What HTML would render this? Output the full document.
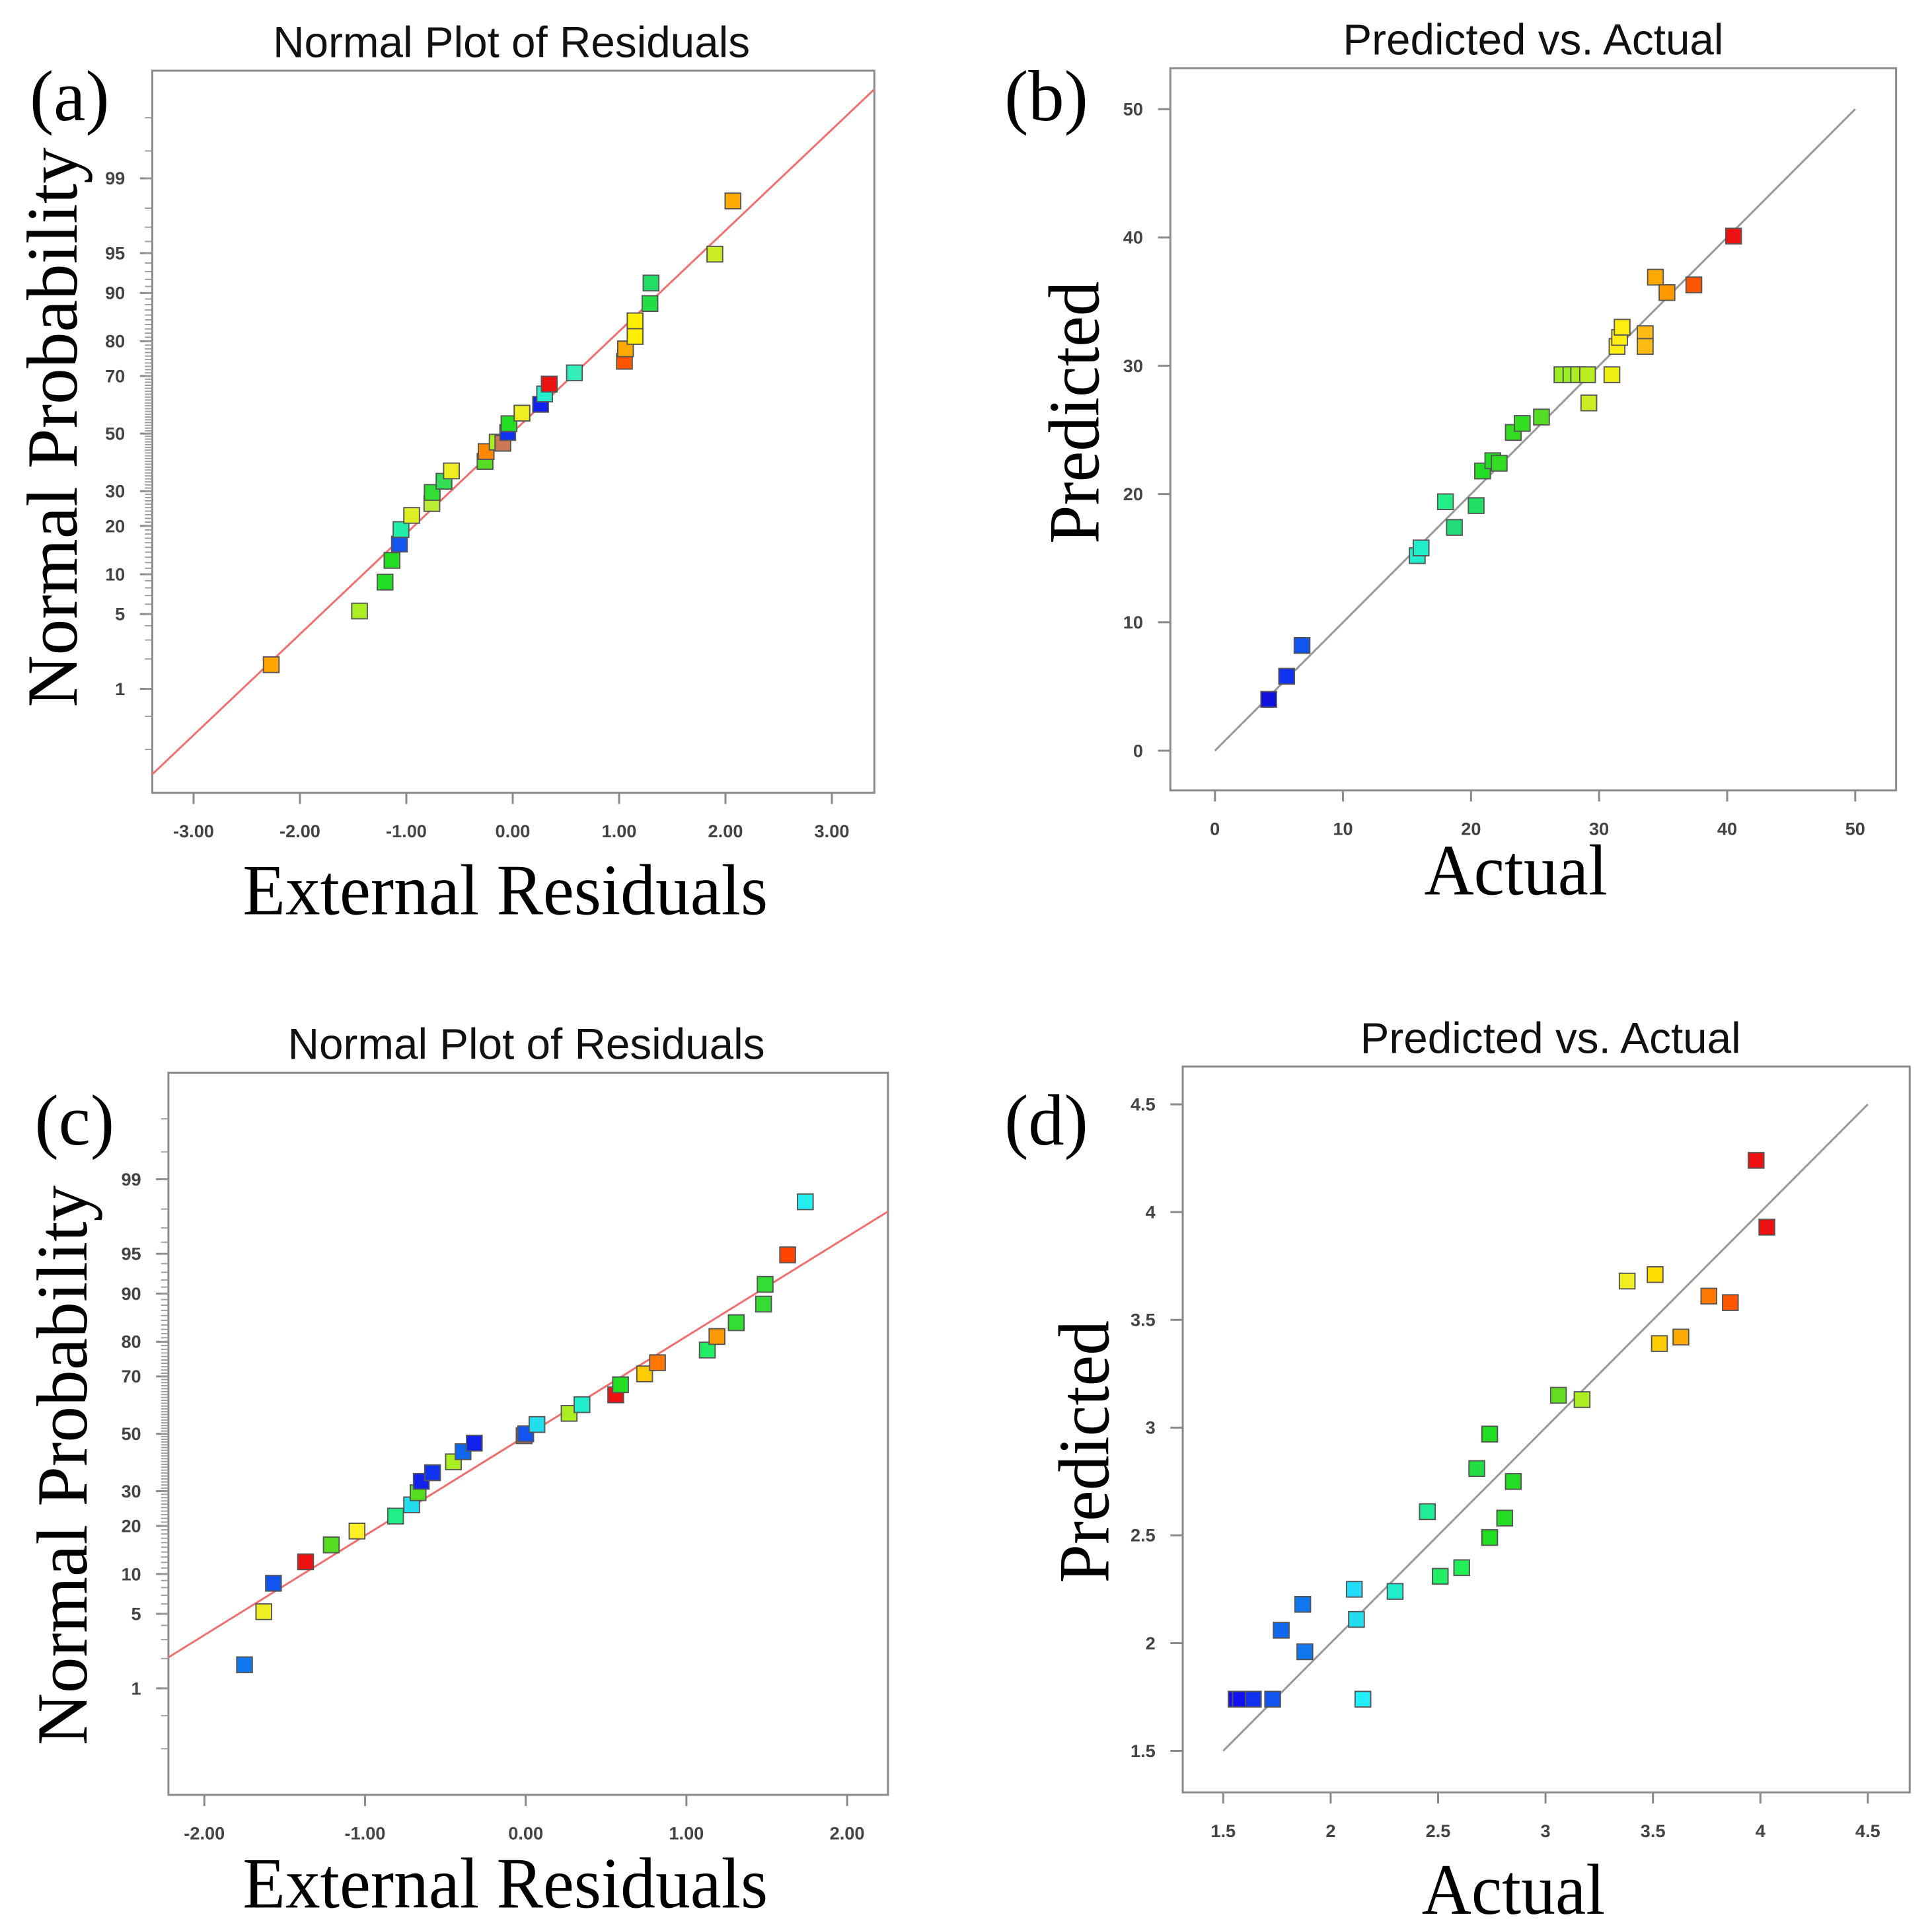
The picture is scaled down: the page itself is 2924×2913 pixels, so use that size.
<!DOCTYPE html>
<html><head><meta charset="utf-8">
<style>
html,body{margin:0;padding:0;background:#fff;}
svg{display:block;}
.tk{font-family:"Liberation Sans",sans-serif;font-size:14.5px;fill:#444;font-weight:bold;}
.ttl{font-family:"Liberation Sans",sans-serif;font-size:35px;fill:#111;}
.big{font-family:"Liberation Serif",serif;font-size:58px;fill:#000;}
</style></head>
<body>
<svg id="fig" width="2924" height="2913" viewBox="0 0 1560 1554" xmlns="http://www.w3.org/2000/svg">
<rect x="0" y="0" width="1560" height="1554" fill="#fff"/>
</svg>
<script>
// ---- Panel (a) data: external residuals vs normal % probability ----
const aRes=[-2.27,-1.44,-1.20,-1.135,-1.065,-1.05,-0.95,-0.76,-0.757,-0.646,-0.576,-0.26,-0.25,-0.146,-0.093,-0.047,-0.035,0.087,0.262,0.30,0.343,0.58,1.05,1.06,1.15,1.15,1.29,1.30,1.90,2.07];
const aProb=[1.76,5.3,8.8,12.4,15.7,19.1,22.8,26.2,29.6,33.2,36.7,40.0,43.5,46.9,46.5,50.4,53.6,57.4,60.5,64.1,67.4,71.0,74.5,78.0,81.2,84.8,88.2,91.5,94.9,98.3];
const aCol=['#ffa500','#aaee22','#22dd22','#22dd22','#1155ee','#22eeaa','#ddee22','#bbee33','#33dd33','#33dd55','#eeee22','#55dd22','#ff8800','#aaee22','#cc7755','#1133ee','#22dd22','#eeee22','#1122ee','#22eecc','#ee1111','#33eebb','#ff5500','#ffaa00','#ffee00','#ffee00','#22dd44','#22dd66','#ccee22','#ffaa00'];
// ---- Panel (b) data ----
const bAct=[4.2,5.6,6.8,15.8,16.1,18.0,18.7,20.4,20.9,21.7,22.2,23.3,24.0,25.5,27.1,27.8,28.4,29.1,29.2,31.0,31.4,31.6,31.8,33.6,33.6,34.4,35.3,37.4,40.5];
const bPred=[4.0,5.8,8.2,15.2,15.8,19.4,17.4,19.1,21.8,22.6,22.4,24.8,25.5,26.0,29.3,29.3,29.3,29.3,27.1,29.3,31.5,32.2,33.0,32.5,31.5,36.9,35.7,36.3,40.1];
const bCol=['#1111dd','#1133ee','#1155ee','#22eecc','#22eecc','#22ee88','#22dd77','#22dd66','#22dd22','#22dd22','#33dd22','#33dd22','#33dd22','#55dd22','#99ee22','#99ee22','#aaee22','#bbee22','#ccee22','#eeee11','#ffee11','#ffee11','#ffee11','#ffbb11','#ffbb11','#ffaa00','#ff9900','#ff5500','#ee1111'];
// ---- Panel (c) data ----
const cRes=[-1.75,-1.63,-1.57,-1.37,-1.21,-1.05,-0.81,-0.71,-0.67,-0.65,-0.58,-0.45,-0.39,-0.32,-0.01,0.0,0.07,0.27,0.35,0.56,0.59,0.74,0.82,1.13,1.19,1.31,1.48,1.49,1.63,1.74];
const cProb=[1.74,5.2,8.6,12.1,15.5,18.7,22.6,25.8,29.5,33.2,36.1,39.9,43.5,46.6,49.3,50.0,53.4,57.4,60.5,63.9,67.3,70.8,74.2,77.8,81.3,84.5,88.2,91.4,94.9,98.3];
const cCol=['#1177ee','#eeee22','#1155ee','#ee1111','#55dd22','#ffee22','#22ee88','#22ddee','#55dd22','#1122ee','#1133ee','#aaee22','#1166ee','#1122ee','#cc7755','#1155ee','#22ddee','#aaee22','#22eecc','#ee1111','#22dd22','#ffcc00','#ff7700','#22ee66','#ff9900','#33dd33','#33dd33','#33dd33','#ff4400','#22eeee'];
// ---- Panel (d) data ----
const dAct=[1.56,1.58,1.64,1.73,2.15,1.77,1.87,1.88,2.11,2.12,2.30,2.45,2.51,2.61,2.68,2.74,2.74,2.81,2.85,3.06,3.17,3.38,3.51,3.53,3.63,3.76,3.86,3.98,4.03];
const dPred=[1.74,1.74,1.74,1.74,1.74,2.06,2.18,1.96,2.25,2.11,2.24,2.61,2.31,2.35,2.81,2.97,2.49,2.58,2.75,3.15,3.13,3.68,3.71,3.39,3.42,3.61,3.58,4.24,3.93];
const dCol=['#1111ee','#1111ee','#1133ee','#1155ee','#22eeff','#1166ee','#1177ee','#1177ee','#22ddff','#22ddee','#22eecc','#22ee99','#22ee66','#22ee55','#22dd44','#22dd22','#22dd22','#22dd22','#22dd22','#66dd22','#aaee22','#eeee22','#ffdd00','#ffcc00','#ffaa00','#ff7700','#ff5500','#ee1111','#ee1111'];

const NS='http://www.w3.org/2000/svg';
const svg=document.getElementById('fig');
function mk(tag,attrs,parent){const e=document.createElementNS(NS,tag);for(const k in attrs)e.setAttribute(k,attrs[k]);(parent||svg).appendChild(e);return e;}
function normInv(p){
  const a=[-39.69683028665376,220.9460984245205,-275.9285104469687,138.3577518672690,-30.66479806614716,2.506628277459239];
  const b=[-54.47609879822406,161.5858368580409,-155.6989798598866,66.80131188771972,-13.28068155211639];
  const c=[-0.007784894002430293,-0.3223964580411365,-2.400758277161838,-2.549732539343734,4.374664141464968,2.938163982698783];
  const d=[0.007784695709041462,0.3224671290700398,2.445134137142996,3.754408661907416];
  const pl=0.02425;let q,r;
  if(p<pl){q=Math.sqrt(-2*Math.log(p));return (((((c[0]*q+c[1])*q+c[2])*q+c[3])*q+c[4])*q+c[5])/((((d[0]*q+d[1])*q+d[2])*q+d[3])*q+1);}
  if(p>1-pl){q=Math.sqrt(-2*Math.log(1-p));return -(((((c[0]*q+c[1])*q+c[2])*q+c[3])*q+c[4])*q+c[5])/((((d[0]*q+d[1])*q+d[2])*q+d[3])*q+1);}
  q=p-0.5;r=q*q;return (((((a[0]*r+a[1])*r+a[2])*r+a[3])*r+a[4])*r+a[5])*q/(((((b[0]*r+b[1])*r+b[2])*r+b[3])*r+b[4])*r+1);
}
function txt(x,y,s,cls,extra,name){const t=mk('text',Object.assign({x:x,y:y,class:cls},extra||{}));t.textContent=s;
  
  
  return t;}

function panel(o){
  const g=mk('g',{});
  
  
  const box=mk('rect',{x:o.L,y:o.T,width:o.R-o.L,height:o.B-o.T,fill:'none',stroke:'#8a8a8a','stroke-width':1.6},g);
  
  
  o.xt.forEach(v=>{const x=o.sx(v);
    mk('line',{x1:x,y1:o.B,x2:x,y2:o.B+9,stroke:'#8a8a8a','stroke-width':1.6},g);
    txt(x,o.B+36,o.xfmt(v),'tk',{'text-anchor':'middle'},'x-tick-label');});
  o.yt.forEach(v=>{const y=o.sy(v);
    mk('line',{x1:o.L-10,y1:y,x2:o.L,y2:y,stroke:'#8a8a8a','stroke-width':1.6},g);
    txt(o.L-22,y+5,String(v),'tk',{'text-anchor':'end'},'y-tick-label');});
  if(o.ym) o.ym.forEach(v=>{const y=o.sy(v);mk('line',{x1:o.L-6,y1:y,x2:o.L,y2:y,stroke:'#9a9a9a','stroke-width':1},g);});
  const ln=mk('line',Object.assign({stroke:o.lc,'stroke-width':1.6},o.line),g);
  
  
  for(let i=0;i<o.xs.length;i++){
    const px=o.sx(o.xs[i]),py=o.sy(o.ys[i]);
    const r=mk('rect',{x:px-6.3,y:py-6.3,width:12.6,height:12.6,fill:o.cols[i],stroke:'#555','stroke-width':1},g);
    
    
  }
  txt(o.tx,o.ty,o.title,'ttl',{'text-anchor':'middle'},'chart-title');
  txt(o.lx,o.ly,o.lab,'big',{'font-size':68},'panel-label');
  txt(o.xtx,o.xty,o.xtitle,'big',{'text-anchor':'middle',textLength:o.xtl,lengthAdjust:'spacingAndGlyphs'},'x-axis-title');
  txt(0,0,o.ytitle,'big',{'text-anchor':'middle',transform:`translate(${o.ytx},${o.yty}) rotate(-90)`,textLength:o.ytl,lengthAdjust:'spacingAndGlyphs'},'y-axis-title');
}
const probTicks=[1,5,10,20,30,50,70,80,90,95,99];
const probMinor=[];for(let i=1;i<=99;i++)probMinor.push(i);probMinor.push(99.5,99.8,0.5,0.2);
const fmt2=v=>v.toFixed(2);

(function(){
  const L=123,R=706,T=57,B=640,x0=414,kx=85.9,y50=350,ky=88.6;
  const sx=v=>x0+v*kx, sy=p=>y50-normInv(p/100)*ky;
  panel({name:'panel-a',L,R,T,B,sx,sy,xt:[-3,-2,-1,0,1,2,3],xfmt:fmt2,yt:probTicks,ym:probMinor,
    lc:'#f07070',line:{x1:L,y1:625,x2:R,y2:72},xs:aRes,ys:aProb,cols:aCol,
    title:'Normal Plot of Residuals',tx:413,ty:46,lab:'(a)',lx:24,ly:97,
    xtitle:'External  Residuals',xtx:408,xty:738,xtl:424,ytitle:'Normal  Probability',ytx:62,yty:345,ytl:452});
})();
(function(){
  const L=945,R=1531,T=55,B=638,x0=981,k=10.34,y0=606;
  const sx=v=>x0+v*k, sy=v=>y0-v*10.36;
  panel({name:'panel-b',L,R,T,B,sx,sy,xt:[0,10,20,30,40,50],xfmt:v=>String(v),yt:[0,10,20,30,40,50],
    lc:'#999',line:{x1:sx(0),y1:sy(0),x2:sx(50),y2:sy(50)},xs:bAct,ys:bPred,cols:bCol,
    title:'Predicted vs. Actual',tx:1238,ty:44,lab:'(b)',lx:811,ly:97,
    xtitle:'Actual',xtx:1224,xty:722,xtl:148,ytitle:'Predicted',ytx:887,yty:333,ytl:212});
})();
(function(){
  const L=136,R=717,T=866,B=1449,x0=424.5,kx=129.75,y50=1157.5,ky=88.35;
  const sx=v=>x0+v*kx, sy=p=>y50-normInv(p/100)*ky;
  panel({name:'panel-c',L,R,T,B,sx,sy,xt:[-2,-1,0,1,2],xfmt:fmt2,yt:probTicks,ym:probMinor,
    lc:'#f07070',line:{x1:L,y1:1338,x2:R,y2:978},xs:cRes,ys:cProb,cols:cCol,
    title:'Normal Plot of Residuals',tx:425,ty:855,lab:'(c)',lx:28,ly:924,
    xtitle:'External  Residuals',xtx:408,xty:1540,xtl:424,ytitle:'Normal  Probability',ytx:70,yty:1183,ytl:452});
})();
(function(){
  const L=955,R=1542,T=861,B=1447,x0=987.7,kx=173.5,y0=1413.5,ky=174;
  const sx=v=>x0+(v-1.5)*kx, sy=v=>y0-(v-1.5)*ky;
  panel({name:'panel-d',L,R,T,B,sx,sy,xt:[1.5,2,2.5,3,3.5,4,4.5],xfmt:v=>String(v),yt:[1.5,2,2.5,3,3.5,4,4.5],
    lc:'#999',line:{x1:sx(1.5),y1:sy(1.5),x2:sx(4.5),y2:sy(4.5)},xs:dAct,ys:dPred,cols:dCol,
    title:'Predicted vs. Actual',tx:1252,ty:850,lab:'(d)',lx:811,ly:924,
    xtitle:'Actual',xtx:1222,xty:1545,xtl:148,ytitle:'Predicted',ytx:895,yty:1172,ytl:212});
})();
</script>
</body></html>
